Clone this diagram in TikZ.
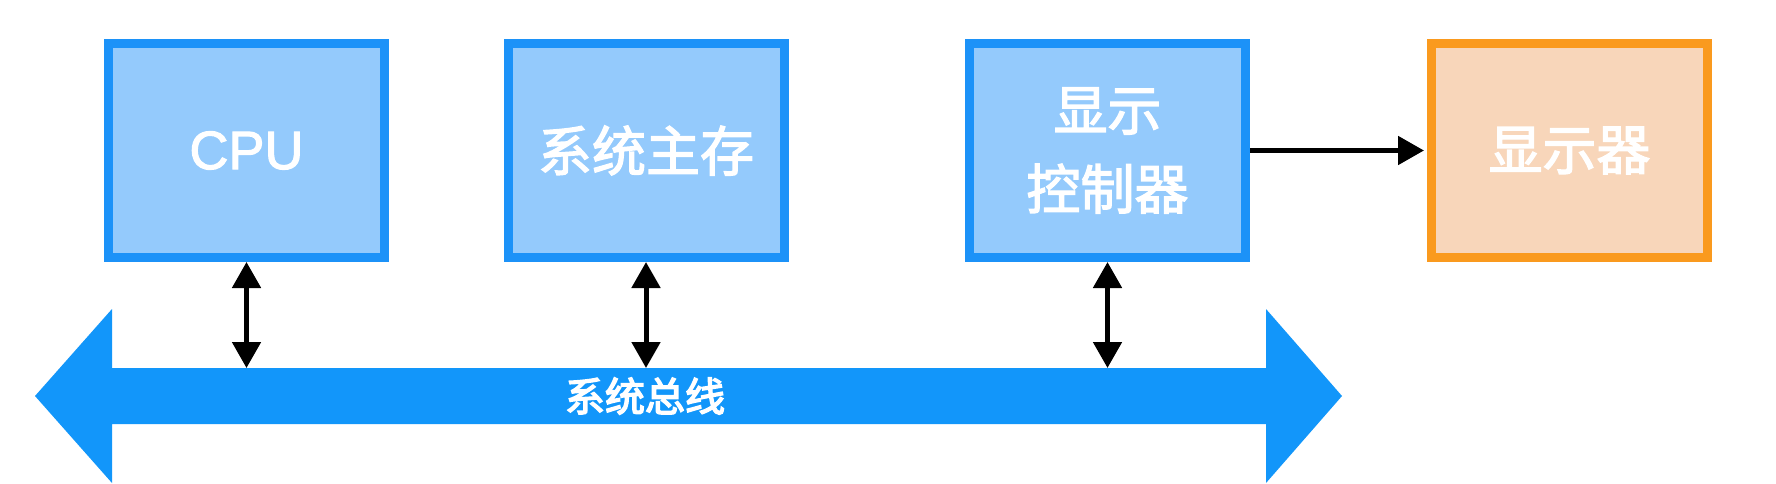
\documentclass[tikz,border=0pt]{standalone}
\usepackage{fontspec}
\setmainfont{Liberation Sans}
\newfontfamily\cjk{Noto Sans CJK SC}[FakeBold=2.4]
\newfontfamily\cjkbus{Noto Sans CJK SC}[FakeBold=3.6]
\newfontfamily\latinbox{Liberation Sans}[FakeBold=2.0]
\usetikzlibrary{arrows.meta}
\definecolor{boxblue}{RGB}{28,146,248}
\definecolor{boxfill}{RGB}{148,202,252}
\definecolor{busblue}{RGB}{18,150,250}
\definecolor{orangeline}{RGB}{250,154,30}
\definecolor{orangefill}{RGB}{248,214,186}
\begin{document}
\begin{tikzpicture}[x=1pt,y=-1pt,
  unit/.style={draw=boxblue, fill=boxfill, line width=9pt, minimum width=276pt, minimum height=214pt,
    inner sep=0pt, text=white, align=center, font=\cjk\fontsize{54}{79}\selectfont},
  outdev/.style={unit, draw=orangeline, fill=orangefill},
  link/.style={line width=5pt, draw=black, {Triangle[length=26pt,width=28pt]}-{Triangle[length=26pt,width=28pt]}},
  oneway/.style={line width=5pt, draw=black, -{Triangle[length=26pt,width=28pt]}}
]
\useasboundingbox (0,0) rectangle (1776,484);
\fill[white] (0,0) rectangle (1776,484);

% bus arrow
\coordinate (ltip) at (35,396);
\coordinate (rtip) at (1342,396);
\coordinate (bustop) at (0,368);
\fill[busblue] (ltip) -- (112,309) -- (112,368) -- (1266,368) -- (1266,309) -- (rtip)
  -- (1266,483) -- (1266,424) -- (112,424) -- (112,483) -- cycle;
\node[text=white, font=\cjkbus\fontsize{40}{48}\selectfont] (buslabel) at (645,396) {系统总线};

% units
\node[unit, font=\latinbox\fontsize{54}{79}\selectfont] (cpu) at (246.5,150.5) {CPU};
\node[unit] (mem) at (646,150.5) {系统主存};
\node[unit] (ctrl) at (1107.5,150.5) {显示\\控制器};
\node[outdev] (disp) at (1569.5,150.5) {显示器};

% connectors
\draw[link] (cpu.south) -- (cpu.south |- bustop);
\draw[link] (mem.south) -- (mem.south |- bustop);
\draw[link] (ctrl.south) -- (ctrl.south |- bustop);
\draw[oneway] (ctrl.east) -- ([xshift=-3pt]disp.west);
\end{tikzpicture}
\end{document}
